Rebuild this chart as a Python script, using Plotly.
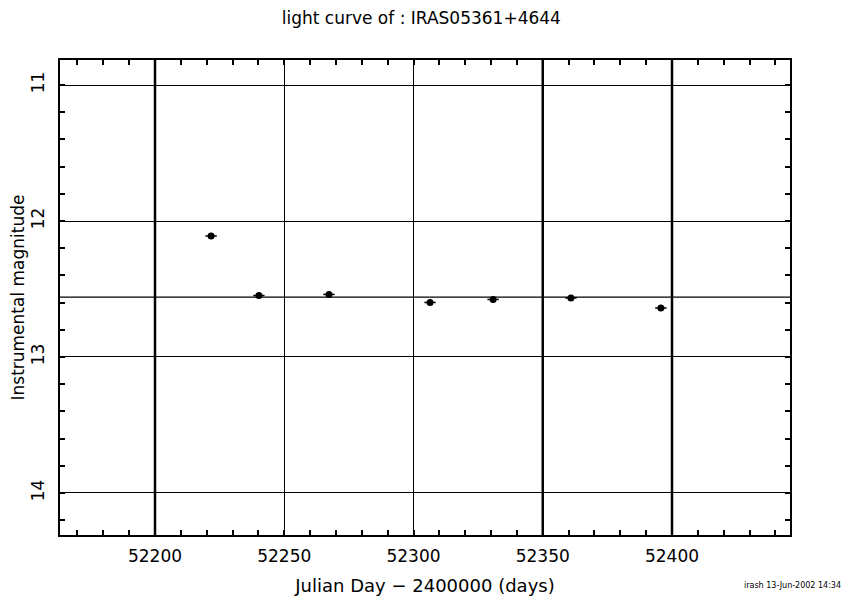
import plotly.graph_objects as go

# Data
jd = [52221.7, 52240.2, 52267.3, 52306.4, 52330.8, 52360.9, 52395.7]
mag = [12.110, 12.548, 12.540, 12.599, 12.577, 12.566, 12.640]
jd_err = [2.2, 2.2, 2.2, 2.2, 2.2, 2.2, 2.2]
mean_mag = [12.56]
thick_days = [52200, 52350, 52400]

x_range = [52163.25, 52445.65]
y_range = [14.309, 10.816]

FONT = "DejaVu Sans"

fig = go.Figure()
fig.add_trace(go.Scatter(
    x=jd, y=mag, mode="markers",
    marker=dict(symbol="circle", size=7, color="black"),
    error_x=dict(type="data", array=jd_err, color="black", thickness=1.5, width=0),
    showlegend=False,
))

for d in thick_days:
    fig.add_shape(type="line", xref="x", yref="paper", x0=d, x1=d, y0=0, y1=1,
                  line=dict(color="black", width=2.5), layer="below")
for m in mean_mag:
    fig.add_shape(type="line", xref="paper", yref="y", x0=0, x1=1, y0=m, y1=m,
                  line=dict(color="black", width=1.2), layer="below")

axis_common = dict(
    showline=True, linecolor="black", linewidth=2, mirror="allticks",
    ticks="inside", ticklen=5, tickcolor="black", tickwidth=1.5,
    showgrid=True, gridcolor="black", gridwidth=1.2, zeroline=False,
    automargin=False,
    tickfont=dict(family=FONT, size=17, color="black"),
)

fig.update_xaxes(
    range=x_range, dtick=50, tick0=52200, tickformat="d", ticklabelstandoff=5,
    minor=dict(dtick=10, ticks="inside", ticklen=5, tickcolor="black", tickwidth=1.5, showgrid=False),
    title=dict(text="Julian Day − 2400000 (days)", font=dict(family=FONT, size=18, color="black"), standoff=16),
    **axis_common,
)
fig.update_yaxes(
    range=y_range, dtick=1, tick0=11, tickangle=-90, ticklabelstandoff=7,
    minor=dict(dtick=0.2, ticks="inside", ticklen=5, tickcolor="black", tickwidth=1.5, showgrid=False),
    title=dict(text="Instrumental magnitude", font=dict(family=FONT, size=17, color="black"), standoff=4),
    **axis_common,
)

fig.update_layout(
    width=843, height=588,
    margin=dict(l=52, r=61, t=52, b=61, autoexpand=False),
    paper_bgcolor="white", plot_bgcolor="white",
    title=dict(text="light curve of : IRAS05361+4644", x=0.495,
               xref="paper", xanchor="center",
               y=1 - 10 / 588, yanchor="middle",
               font=dict(family=FONT, size=17, color="black")),
    annotations=[dict(text="irash 13-Jun-2002 14:34", xref="paper", yref="paper",
                      x=1 + 53 / 730, y=-50 / 475, xanchor="right", yanchor="middle",
                      showarrow=False, font=dict(family=FONT, size=8, color="black"))],
)

fig.write_html("out.html")
